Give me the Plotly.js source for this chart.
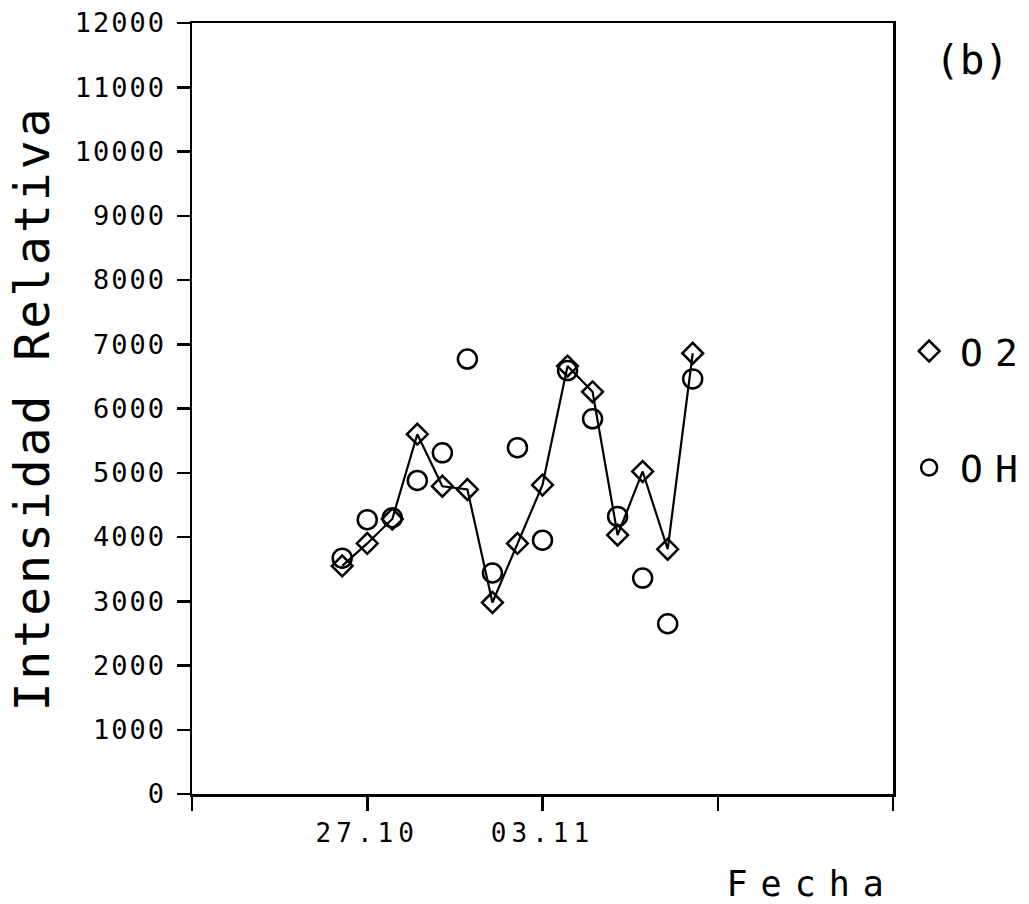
<!DOCTYPE html>
<html>
<head>
<meta charset="utf-8">
<script src="https://cdn.plot.ly/plotly-3.0.1.min.js"></script>
<style>
  html, body { margin: 0; padding: 0; background: #ffffff; }
  #chart { width: 1029px; height: 904px; }
  .ytick text { letter-spacing: 2px; }
  .xtick text { letter-spacing: 5px; }
  .g-ytitle text { letter-spacing: 3px; }
</style>
</head>
<body>
<div id="chart"></div>
<script>
// Daily observations, 26.10 to 09.11
const fechas = ['26.10', '27.10', '28.10', '29.10', '30.10', '31.10', '01.11', '02.11',
                '03.11', '04.11', '05.11', '06.11', '07.11', '08.11', '09.11'];
const intensidadO2 = [3550, 3900, 4280, 5600, 4790, 4740, 2980, 3900,
                      4810, 6660, 6260, 4030, 5020, 3810, 6860];
const intensidadOH = [3670, 4270, 4300, 4880, 5310, 6770, 3440, 5390,
                      3950, 6590, 5840, 4320, 3360, 2650, 6460];

// Weekly ticks on the date axis; only two carry a label
const tickFechas = ['20.10', '27.10', '03.11', '10.11', '17.11'];
const tickTextos = ['', '27.10', '03.11', '', ''];
const rangoFechas = ['20.10', '17.11'];

// "dd.mm" -> running day number (October days, then November continues after 31)
function dia(f) {
  const [d, m] = f.split('.').map(Number);
  return d + (m === 11 ? 31 : 0);
}

const x = fechas.map(dia);
const fuente = 'DejaVu Sans Mono, monospace';
const negro = '#000';

const traces = [
  // connecting line for the O2 series (kept out of the legend)
  {
    x: x,
    y: intensidadO2,
    type: 'scatter',
    mode: 'lines',
    showlegend: false,
    hoverinfo: 'skip',
    line: { color: negro, width: 2.2 }
  },
  {
    name: 'O2',
    x: x,
    y: intensidadO2,
    type: 'scatter',
    mode: 'markers',
    legendgroup: 'o2',
    marker: { symbol: 'diamond-open', size: 16, color: negro, line: { color: negro, width: 2.5 } }
  },
  {
    name: 'OH',
    x: x,
    y: intensidadOH,
    type: 'scatter',
    mode: 'markers',
    legendgroup: 'oh',
    marker: { symbol: 'circle-open', size: 19, color: negro, line: { color: negro, width: 2.5 } }
  }
];

const layout = {
  width: 1029,
  height: 904,
  paper_bgcolor: '#fff',
  plot_bgcolor: '#fff',
  margin: { l: 192, r: 136, t: 23, b: 110, pad: 0 },
  font: { family: fuente, color: negro },
  showlegend: true,
  legend: {
    x: 1.023, xanchor: 'left',
    y: 0.615, yanchor: 'top',
    font: { family: fuente, size: 38, color: negro },
    tracegroupgap: 64,
    traceorder: 'grouped',
    itemsizing: 'trace',
    bgcolor: 'rgba(0,0,0,0)'
  },
  xaxis: {
    range: rangoFechas.map(dia),
    tickmode: 'array',
    tickvals: tickFechas.map(dia),
    ticktext: tickTextos,
    ticks: 'outside',
    ticklen: 14,
    tickwidth: 2.5,
    tickcolor: negro,
    showline: true,
    linecolor: negro,
    linewidth: 2.5,
    mirror: true,
    showgrid: false,
    zeroline: false,
    tickfont: { family: fuente, size: 26, color: negro }
  },
  yaxis: {
    range: [0, 12000],
    tickmode: 'linear',
    tick0: 0,
    dtick: 1000,
    tickformat: 'd',
    ticks: 'outside',
    ticklen: 13,
    tickwidth: 2.5,
    tickcolor: negro,
    ticklabelstandoff: 5,
    showline: true,
    linecolor: negro,
    linewidth: 2.5,
    mirror: true,
    showgrid: false,
    zeroline: false,
    tickfont: { family: fuente, size: 27, color: negro },
    title: { text: 'Intensidad Relativa', font: { family: fuente, size: 48, color: negro }, standoff: 10 }
  },
  annotations: [
    {
      text: 'Fecha',
      xref: 'paper', yref: 'paper',
      x: 0.884, y: -0.117,
      xanchor: 'center', yanchor: 'middle',
      showarrow: false,
      font: { family: fuente, size: 35, color: negro }
    },
    {
      text: '(b)',
      xref: 'paper', yref: 'paper',
      x: 1.113, y: 0.952,
      xanchor: 'center', yanchor: 'middle',
      showarrow: false,
      font: { family: fuente, size: 41, color: negro }
    }
  ]
};

Plotly.newPlot('chart', traces, layout, { displayModeBar: false, staticPlot: true }).then(function () {
  // the axis-title annotation gets wide spacing, the panel label stays tight
  document.querySelectorAll('.annotation-text').forEach(function (t) {
    t.style.letterSpacing = (t.textContent === 'Fecha') ? '13px' : '0px';
  });
  // wide-set legend labels, with a wider gap after each symbol
  document.querySelectorAll('.legend .scrollbox').forEach(function (g) {
    g.removeAttribute('clip-path');
  });
  document.querySelectorAll('.legendtext').forEach(function (t) {
    t.style.letterSpacing = '12px';
    t.setAttribute('x', Number(t.getAttribute('x')) + 11);
  });
});
</script>
</body>
</html>
